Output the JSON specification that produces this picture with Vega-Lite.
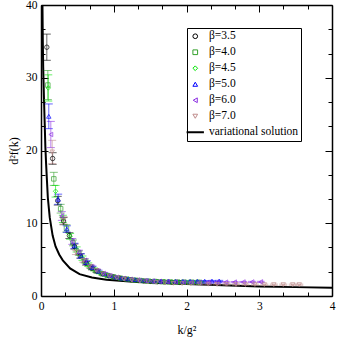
{
  "$schema": "https://vega.github.io/schema/vega-lite/v6.json",
  "width": 291,
  "height": 291,
  "autosize": "none",
  "padding": {"left": 41, "top": 5, "right": 5, "bottom": 43},
  "background": "white",
  "config": {
    "view": {"stroke": null},
    "font": "Liberation Serif",
    "axis": {
      "grid": false,
      "domainColor": "black",
      "domainWidth": 1.5,
      "tickColor": "black",
      "tickWidth": 1,
      "labelFont": "Liberation Serif",
      "labelFontSize": 11.5,
      "labelColor": "black",
      "titleFont": "Liberation Serif",
      "titleFontSize": 12,
      "titleFontWeight": "normal",
      "titleColor": "black"
    },
    "legend": {
      "orient": "none",
      "legendX": 146,
      "legendY": 23,
      "strokeColor": "black",
      "strokeWidth": 1,
      "fillColor": "white",
      "padding": 2.5,
      "labelFont": "Liberation Serif",
      "labelFontSize": 11.5,
      "labelColor": "black",
      "rowPadding": 3,
      "labelOffset": 8,
      "symbolStrokeWidth": 1,
      "labelLimit": 200
    }
  },
  "datasets": {
    "curve": [
      {"b": "variational solution", "x": 0.018, "y": 42},
      {"b": "variational solution", "x": 0.025, "y": 35},
      {"b": "variational solution", "x": 0.03, "y": 31.5},
      {"b": "variational solution", "x": 0.04, "y": 27.5},
      {"b": "variational solution", "x": 0.05, "y": 24},
      {"b": "variational solution", "x": 0.06, "y": 20.5},
      {"b": "variational solution", "x": 0.07, "y": 18.2},
      {"b": "variational solution", "x": 0.08, "y": 16.2},
      {"b": "variational solution", "x": 0.094, "y": 13.5},
      {"b": "variational solution", "x": 0.12, "y": 10.8},
      {"b": "variational solution", "x": 0.16, "y": 8.3},
      {"b": "variational solution", "x": 0.2, "y": 6.8},
      {"b": "variational solution", "x": 0.25, "y": 5.7},
      {"b": "variational solution", "x": 0.3, "y": 4.9},
      {"b": "variational solution", "x": 0.4, "y": 3.8},
      {"b": "variational solution", "x": 0.53, "y": 3.0},
      {"b": "variational solution", "x": 0.7, "y": 2.55},
      {"b": "variational solution", "x": 0.9, "y": 2.25},
      {"b": "variational solution", "x": 1.22, "y": 2.0},
      {"b": "variational solution", "x": 1.5, "y": 1.85},
      {"b": "variational solution", "x": 1.77, "y": 1.75},
      {"b": "variational solution", "x": 2.0, "y": 1.65},
      {"b": "variational solution", "x": 2.5, "y": 1.47},
      {"b": "variational solution", "x": 3.0, "y": 1.32},
      {"b": "variational solution", "x": 3.5, "y": 1.22},
      {"b": "variational solution", "x": 4.0, "y": 1.15}
    ],
    "pts": [
      {"b": "β=3.5", "x": 0.08, "y": 34.2, "e": 1.8},
      {"b": "β=3.5", "x": 0.16, "y": 18.9, "e": 0.8},
      {"b": "β=3.5", "x": 0.23, "y": 13.1, "e": 0.6},
      {"b": "β=3.5", "x": 0.31, "y": 10.3, "e": 0.5},
      {"b": "β=3.5", "x": 0.39, "y": 8.3, "e": 0.4},
      {"b": "β=3.5", "x": 0.46, "y": 6.8, "e": 0.35},
      {"b": "β=3.5", "x": 0.54, "y": 5.5, "e": 0.3},
      {"b": "β=3.5", "x": 0.62, "y": 4.5, "e": 0.25},
      {"b": "β=3.5", "x": 0.70, "y": 3.8, "e": 0.2},
      {"b": "β=3.5", "x": 0.77, "y": 3.4, "e": 0.2},
      {"b": "β=3.5", "x": 0.85, "y": 3.05, "e": 0.15},
      {"b": "β=3.5", "x": 0.93, "y": 2.78, "e": 0.15},
      {"b": "β=3.5", "x": 1.00, "y": 2.6, "e": 0.12},
      {"b": "β=3.5", "x": 1.08, "y": 2.45, "e": 0.12},
      {"b": "β=3.5", "x": 1.16, "y": 2.33, "e": 0.1},
      {"b": "β=3.5", "x": 1.24, "y": 2.24, "e": 0.1},
      {"b": "β=3.5", "x": 1.32, "y": 2.15, "e": 0.1},
      {"b": "β=3.5", "x": 1.41, "y": 2.07, "e": 0.1},
      {"b": "β=3.5", "x": 1.50, "y": 2.01, "e": 0.1},
      {"b": "β=3.5", "x": 1.60, "y": 1.96, "e": 0.1},
      {"b": "β=3.5", "x": 1.70, "y": 1.92, "e": 0.1},
      {"b": "β=3.5", "x": 1.80, "y": 1.89, "e": 0.1},
      {"b": "β=3.5", "x": 1.90, "y": 1.87, "e": 0.1},
      {"b": "β=4.0", "x": 0.094, "y": 29.0, "e": 2.0},
      {"b": "β=4.0", "x": 0.176, "y": 16.1, "e": 0.9},
      {"b": "β=4.0", "x": 0.27, "y": 12.0, "e": 0.6},
      {"b": "β=4.0", "x": 0.35, "y": 9.3, "e": 0.5},
      {"b": "β=4.0", "x": 0.44, "y": 7.3, "e": 0.4},
      {"b": "β=4.0", "x": 0.52, "y": 5.9, "e": 0.3},
      {"b": "β=4.0", "x": 0.60, "y": 4.8, "e": 0.25},
      {"b": "β=4.0", "x": 0.68, "y": 4.0, "e": 0.2},
      {"b": "β=4.0", "x": 0.76, "y": 3.45, "e": 0.2},
      {"b": "β=4.0", "x": 0.84, "y": 3.05, "e": 0.15},
      {"b": "β=4.0", "x": 0.92, "y": 2.8, "e": 0.15},
      {"b": "β=4.0", "x": 1.00, "y": 2.62, "e": 0.12},
      {"b": "β=4.0", "x": 1.09, "y": 2.45, "e": 0.12},
      {"b": "β=4.0", "x": 1.18, "y": 2.32, "e": 0.1},
      {"b": "β=4.0", "x": 1.27, "y": 2.2, "e": 0.1},
      {"b": "β=4.0", "x": 1.36, "y": 2.12, "e": 0.1},
      {"b": "β=4.0", "x": 1.46, "y": 2.05, "e": 0.1},
      {"b": "β=4.0", "x": 1.56, "y": 2.0, "e": 0.1},
      {"b": "β=4.0", "x": 1.66, "y": 1.96, "e": 0.1},
      {"b": "β=4.0", "x": 1.76, "y": 1.93, "e": 0.1},
      {"b": "β=4.0", "x": 1.86, "y": 1.92, "e": 0.1},
      {"b": "β=4.0", "x": 1.96, "y": 1.91, "e": 0.1},
      {"b": "β=4.0", "x": 2.06, "y": 1.9, "e": 0.1},
      {"b": "β=4.0", "x": 2.16, "y": 1.9, "e": 0.1},
      {"b": "β=4.5", "x": 0.10, "y": 28.6, "e": 1.8},
      {"b": "β=4.5", "x": 0.20, "y": 14.4, "e": 0.8},
      {"b": "β=4.5", "x": 0.30, "y": 10.6, "e": 0.5},
      {"b": "β=4.5", "x": 0.40, "y": 8.2, "e": 0.4},
      {"b": "β=4.5", "x": 0.49, "y": 6.4, "e": 0.35},
      {"b": "β=4.5", "x": 0.57, "y": 5.2, "e": 0.3},
      {"b": "β=4.5", "x": 0.65, "y": 4.3, "e": 0.25},
      {"b": "β=4.5", "x": 0.73, "y": 3.65, "e": 0.2},
      {"b": "β=4.5", "x": 0.81, "y": 3.2, "e": 0.15},
      {"b": "β=4.5", "x": 0.89, "y": 2.9, "e": 0.15},
      {"b": "β=4.5", "x": 0.97, "y": 2.68, "e": 0.12},
      {"b": "β=4.5", "x": 1.05, "y": 2.5, "e": 0.12},
      {"b": "β=4.5", "x": 1.13, "y": 2.38, "e": 0.1},
      {"b": "β=4.5", "x": 1.22, "y": 2.27, "e": 0.1},
      {"b": "β=4.5", "x": 1.31, "y": 2.18, "e": 0.1},
      {"b": "β=4.5", "x": 1.40, "y": 2.1, "e": 0.1},
      {"b": "β=4.5", "x": 1.50, "y": 2.04, "e": 0.1},
      {"b": "β=4.5", "x": 1.60, "y": 1.99, "e": 0.1},
      {"b": "β=4.5", "x": 1.70, "y": 1.96, "e": 0.1},
      {"b": "β=4.5", "x": 1.80, "y": 1.94, "e": 0.1},
      {"b": "β=4.5", "x": 1.90, "y": 1.93, "e": 0.1},
      {"b": "β=4.5", "x": 2.00, "y": 1.92, "e": 0.1},
      {"b": "β=4.5", "x": 2.10, "y": 1.92, "e": 0.1},
      {"b": "β=4.5", "x": 2.20, "y": 1.91, "e": 0.1},
      {"b": "β=5.0", "x": 0.107, "y": 24.7, "e": 1.7},
      {"b": "β=5.0", "x": 0.236, "y": 13.3, "e": 0.7},
      {"b": "β=5.0", "x": 0.355, "y": 9.2, "e": 0.45},
      {"b": "β=5.0", "x": 0.46, "y": 6.9, "e": 0.35},
      {"b": "β=5.0", "x": 0.55, "y": 5.5, "e": 0.3},
      {"b": "β=5.0", "x": 0.63, "y": 4.6, "e": 0.25},
      {"b": "β=5.0", "x": 0.71, "y": 3.9, "e": 0.2},
      {"b": "β=5.0", "x": 0.79, "y": 3.4, "e": 0.15},
      {"b": "β=5.0", "x": 0.87, "y": 3.05, "e": 0.15},
      {"b": "β=5.0", "x": 0.95, "y": 2.8, "e": 0.12},
      {"b": "β=5.0", "x": 1.03, "y": 2.6, "e": 0.12},
      {"b": "β=5.0", "x": 1.11, "y": 2.46, "e": 0.1},
      {"b": "β=5.0", "x": 1.20, "y": 2.35, "e": 0.1},
      {"b": "β=5.0", "x": 1.29, "y": 2.25, "e": 0.1},
      {"b": "β=5.0", "x": 1.38, "y": 2.18, "e": 0.1},
      {"b": "β=5.0", "x": 1.47, "y": 2.12, "e": 0.1},
      {"b": "β=5.0", "x": 1.56, "y": 2.08, "e": 0.1},
      {"b": "β=5.0", "x": 1.65, "y": 2.05, "e": 0.1},
      {"b": "β=5.0", "x": 1.75, "y": 2.03, "e": 0.08},
      {"b": "β=5.0", "x": 1.85, "y": 2.02, "e": 0.08},
      {"b": "β=5.0", "x": 1.95, "y": 2.02, "e": 0.08},
      {"b": "β=5.0", "x": 2.05, "y": 2.03, "e": 0.08},
      {"b": "β=5.0", "x": 2.15, "y": 2.04, "e": 0.08},
      {"b": "β=5.0", "x": 2.25, "y": 2.05, "e": 0.08},
      {"b": "β=5.0", "x": 2.35, "y": 2.06, "e": 0.08},
      {"b": "β=5.0", "x": 2.45, "y": 2.07, "e": 0.08},
      {"b": "β=6.0", "x": 0.135, "y": 22.2, "e": 1.8},
      {"b": "β=6.0", "x": 0.286, "y": 11.0, "e": 0.6},
      {"b": "β=6.0", "x": 0.43, "y": 7.5, "e": 0.4},
      {"b": "β=6.0", "x": 0.52, "y": 6.0, "e": 0.3},
      {"b": "β=6.0", "x": 0.60, "y": 4.9, "e": 0.25},
      {"b": "β=6.0", "x": 0.69, "y": 4.05, "e": 0.2},
      {"b": "β=6.0", "x": 0.77, "y": 3.5, "e": 0.2},
      {"b": "β=6.0", "x": 0.86, "y": 3.1, "e": 0.15},
      {"b": "β=6.0", "x": 0.95, "y": 2.8, "e": 0.12},
      {"b": "β=6.0", "x": 1.04, "y": 2.58, "e": 0.12},
      {"b": "β=6.0", "x": 1.13, "y": 2.42, "e": 0.1},
      {"b": "β=6.0", "x": 1.23, "y": 2.3, "e": 0.1},
      {"b": "β=6.0", "x": 1.33, "y": 2.2, "e": 0.1},
      {"b": "β=6.0", "x": 1.43, "y": 2.12, "e": 0.1},
      {"b": "β=6.0", "x": 1.53, "y": 2.05, "e": 0.1},
      {"b": "β=6.0", "x": 1.63, "y": 2.0, "e": 0.08},
      {"b": "β=6.0", "x": 1.74, "y": 1.96, "e": 0.08},
      {"b": "β=6.0", "x": 1.85, "y": 1.93, "e": 0.08},
      {"b": "β=6.0", "x": 1.96, "y": 1.91, "e": 0.08},
      {"b": "β=6.0", "x": 2.07, "y": 1.9, "e": 0.08},
      {"b": "β=6.0", "x": 2.18, "y": 1.89, "e": 0.08},
      {"b": "β=6.0", "x": 2.30, "y": 1.89, "e": 0.08},
      {"b": "β=6.0", "x": 2.42, "y": 1.89, "e": 0.08},
      {"b": "β=6.0", "x": 2.54, "y": 1.9, "e": 0.08},
      {"b": "β=6.0", "x": 2.66, "y": 1.91, "e": 0.08},
      {"b": "β=6.0", "x": 2.78, "y": 1.92, "e": 0.08},
      {"b": "β=6.0", "x": 2.90, "y": 1.93, "e": 0.08},
      {"b": "β=6.0", "x": 3.02, "y": 1.94, "e": 0.08},
      {"b": "β=7.0", "x": 0.154, "y": 19.8, "e": 1.6},
      {"b": "β=7.0", "x": 0.31, "y": 10.4, "e": 0.5},
      {"b": "β=7.0", "x": 0.48, "y": 6.0, "e": 0.3},
      {"b": "β=7.0", "x": 0.58, "y": 4.9, "e": 0.25},
      {"b": "β=7.0", "x": 0.67, "y": 4.1, "e": 0.2},
      {"b": "β=7.0", "x": 0.76, "y": 3.5, "e": 0.15},
      {"b": "β=7.0", "x": 0.85, "y": 3.05, "e": 0.15},
      {"b": "β=7.0", "x": 0.94, "y": 2.75, "e": 0.12},
      {"b": "β=7.0", "x": 1.04, "y": 2.5, "e": 0.1},
      {"b": "β=7.0", "x": 1.14, "y": 2.32, "e": 0.1},
      {"b": "β=7.0", "x": 1.25, "y": 2.17, "e": 0.1},
      {"b": "β=7.0", "x": 1.36, "y": 2.05, "e": 0.1},
      {"b": "β=7.0", "x": 1.47, "y": 1.95, "e": 0.08},
      {"b": "β=7.0", "x": 1.58, "y": 1.87, "e": 0.08},
      {"b": "β=7.0", "x": 1.70, "y": 1.8, "e": 0.08},
      {"b": "β=7.0", "x": 1.82, "y": 1.74, "e": 0.08},
      {"b": "β=7.0", "x": 1.94, "y": 1.7, "e": 0.08},
      {"b": "β=7.0", "x": 2.06, "y": 1.67, "e": 0.08},
      {"b": "β=7.0", "x": 2.18, "y": 1.64, "e": 0.08},
      {"b": "β=7.0", "x": 2.30, "y": 1.62, "e": 0.08},
      {"b": "β=7.0", "x": 2.42, "y": 1.6, "e": 0.08},
      {"b": "β=7.0", "x": 2.55, "y": 1.59, "e": 0.08},
      {"b": "β=7.0", "x": 2.68, "y": 1.58, "e": 0.08},
      {"b": "β=7.0", "x": 2.81, "y": 1.57, "e": 0.08},
      {"b": "β=7.0", "x": 2.94, "y": 1.57, "e": 0.08},
      {"b": "β=7.0", "x": 3.07, "y": 1.56, "e": 0.08},
      {"b": "β=7.0", "x": 3.20, "y": 1.56, "e": 0.08},
      {"b": "β=7.0", "x": 3.33, "y": 1.56, "e": 0.08},
      {"b": "β=7.0", "x": 3.46, "y": 1.56, "e": 0.08},
      {"b": "β=7.0", "x": 3.55, "y": 1.56, "e": 0.08}
    ]
  },
  "layer": [
    {
      "data": {"name": "curve"},
      "mark": {"type": "line", "strokeWidth": 2, "clip": true},
      "encoding": {
        "x": {
          "field": "x", "type": "quantitative",
          "scale": {"domain": [0, 4], "nice": false, "zero": false},
          "axis": {
            "orient": "bottom",
            "values": [0, 0.3333, 0.6667, 1, 1.3333, 1.6667, 2, 2.3333, 2.6667, 3, 3.3333, 3.6667, 4],
            "labelExpr": "abs(datum.value - round(datum.value)) < 0.01 ? format(datum.value, 'd') : ''",
            "tickSize": {"condition": {"test": "abs(datum.value - round(datum.value)) < 0.01", "value": -7}, "value": -4},
            "labelPadding": 11,
            "labelFlush": false,
            "labelOverlap": false,
            "title": "k/g²",
            "titlePadding": 10
          }
        },
        "y": {
          "field": "y", "type": "quantitative",
          "scale": {"domain": [0, 40], "nice": false, "zero": false},
          "axis": {
            "orient": "left",
            "values": [0, 3.3333, 6.6667, 10, 13.3333, 16.6667, 20, 23.3333, 26.6667, 30, 33.3333, 36.6667, 40],
            "labelExpr": "abs(datum.value / 10 - round(datum.value / 10)) < 0.01 ? format(datum.value, 'd') : ''",
            "tickSize": {"condition": {"test": "abs(datum.value / 10 - round(datum.value / 10)) < 0.01", "value": -7}, "value": -4},
            "labelPadding": 11,
            "labelFlush": false,
            "labelOverlap": false,
            "title": "d²f(k)",
            "titlePadding": 5
          }
        },
        "color": {
          "field": "b", "type": "nominal",
          "scale": {
            "domain": ["β=3.5", "β=4.0", "β=4.5", "β=5.0", "β=6.0", "β=7.0", "variational solution"],
            "range": ["#000000", "#33a02c", "#00e600", "#0000ff", "#8a2be2", "#c08c8c", "#000000"]
          },
          "legend": {
            "title": null,
            "encode": {
              "symbols": {
                "update": {
                  "size": {"signal": "datum.value === 'variational solution' ? 300 : 22"},
                  "strokeWidth": {"signal": "datum.value === 'variational solution' ? 2 : 1"},
                  "fillOpacity": {"value": 0},
                  "stroke": {"scale": "color", "field": "value"}
                }
              }
            }
          }
        }
      }
    },
    {
      "data": {"name": "pts"},
      "mark": {"type": "errorbar", "ticks": {"size": 8}, "opacity": 0.6},
      "encoding": {
        "x": {"field": "x", "type": "quantitative", "axis": null},
        "y": {"field": "y", "type": "quantitative", "axis": null},
        "yError": {"field": "e"},
        "color": {"field": "b", "type": "nominal"}
      }
    },
    {
      "data": {"name": "pts"},
      "mark": {"type": "point", "filled": false, "size": 20, "strokeWidth": 1},
      "encoding": {
        "x": {
          "field": "x", "type": "quantitative",
          "axis": {
            "orient": "top",
            "values": [0, 0.3333, 0.6667, 1, 1.3333, 1.6667, 2, 2.3333, 2.6667, 3, 3.3333, 3.6667, 4],
            "labels": false,
            "tickSize": {"condition": {"test": "abs(datum.value - round(datum.value)) < 0.01", "value": -7}, "value": -4},
            "title": null
          }
        },
        "y": {
          "field": "y", "type": "quantitative",
          "axis": {
            "orient": "right",
            "values": [0, 3.3333, 6.6667, 10, 13.3333, 16.6667, 20, 23.3333, 26.6667, 30, 33.3333, 36.6667, 40],
            "labels": false,
            "tickSize": {"condition": {"test": "abs(datum.value / 10 - round(datum.value / 10)) < 0.01", "value": -7}, "value": -4},
            "title": null
          }
        },
        "color": {"field": "b", "type": "nominal"},
        "shape": {
          "field": "b", "type": "nominal",
          "scale": {
            "domain": ["β=3.5", "β=4.0", "β=4.5", "β=5.0", "β=6.0", "β=7.0", "variational solution"],
            "range": ["circle", "square", "diamond", "triangle-up", "triangle-left", "triangle-down", "stroke"]
          },
          "legend": {"title": null}
        }
      }
    }
  ],
  "resolve": {"axis": {"x": "independent", "y": "independent"}}
}
